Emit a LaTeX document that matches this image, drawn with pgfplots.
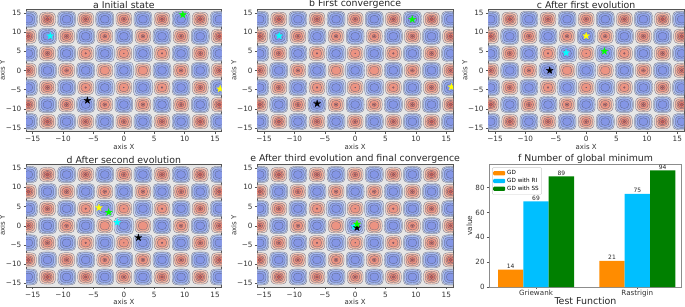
\documentclass[border=0pt]{standalone}
\usepackage{fontspec}
\setmainfont{DejaVu Sans}
\usepackage{pgfplots}
\usepackage{pgfplotstable}
\pgfplotsset{compat=1.18}
\definecolor{bA}{HTML}{C8D3EF}
\definecolor{bB}{HTML}{AABDF0}
\definecolor{bC}{HTML}{8EA1E9}
\definecolor{bD}{HTML}{8496E6}
\definecolor{rA}{HTML}{F2D0C2}
\definecolor{rB}{HTML}{F0AF9B}
\definecolor{rC}{HTML}{EC9382}
\definecolor{rD}{HTML}{E57E6D}
\definecolor{rE}{HTML}{C85A54}
\definecolor{cline}{HTML}{50566E}
\definecolor{bg}{HTML}{E6E6E6}
\definecolor{spine}{HTML}{555555}
\definecolor{tgo}{HTML}{FF8C00}
\definecolor{tgb}{HTML}{00BFFF}
\definecolor{tgg}{HTML}{008000}
\definecolor{sC}{HTML}{00FFFF}
\definecolor{sY}{HTML}{FFFF00}
\definecolor{sG}{HTML}{00FF00}
% one contour ring: rx, ry, squareness, fill colour
\newcommand\ring[4]{%
  \pgfsetfillcolor{#4}%
  \pgfpathmoveto{\pgfpoint{#1bp}{0bp}}%
  \pgfpathcurveto{\pgfpoint{#1bp}{#3*#2bp}}{\pgfpoint{#3*#1bp}{#2bp}}{\pgfpoint{0bp}{#2bp}}%
  \pgfpathcurveto{\pgfpoint{-#3*#1bp}{#2bp}}{\pgfpoint{-#1bp}{#3*#2bp}}{\pgfpoint{-#1bp}{0bp}}%
  \pgfpathcurveto{\pgfpoint{-#1bp}{-#3*#2bp}}{\pgfpoint{-#3*#1bp}{-#2bp}}{\pgfpoint{0bp}{-#2bp}}%
  \pgfpathcurveto{\pgfpoint{#3*#1bp}{-#2bp}}{\pgfpoint{#1bp}{-#3*#2bp}}{\pgfpoint{#1bp}{0bp}}%
  \pgfpathclose\pgfusepath{fill,stroke}}
\newcommand\lineset{\pgfsetlinewidth{0.2bp}\pgfsetstrokecolor{cline}}
\newcommand\bluerings{\ring{8.0}{7.2}{0.84}{bB}\ring{6.4}{5.7}{0.74}{bC}\ring{4.4}{3.9}{0.62}{bD}}
\newcommand\redrings{\ring{8.0}{7.2}{0.84}{rA}\ring{6.4}{5.7}{0.74}{rB}}
\pgfdeclareplotmark{cellB}{\lineset\ring{9.0}{8.0}{0.92}{bA}\bluerings}
\pgfdeclareplotmark{cellBc}{\lineset\ring{9.5}{8.5}{0.98}{bA}\bluerings}
\pgfdeclareplotmark{cellR0}{\lineset\redrings\ring{4.8}{4.3}{0.62}{rC}}
\pgfdeclareplotmark{cellR1}{\lineset\redrings\ring{4.8}{4.3}{0.62}{rC}\ring{0.5}{0.5}{0.56}{rE}}
\pgfdeclareplotmark{cellR2}{\lineset\redrings\ring{4.8}{4.3}{0.62}{rC}\ring{0.9}{0.9}{0.56}{rE}}
\pgfdeclareplotmark{cellR3}{\lineset\redrings\ring{4.8}{4.3}{0.62}{rC}\ring{2.0}{1.8}{0.56}{rD}\ring{0.9}{0.8}{0.56}{rE}}
\pgfdeclareplotmark{cellR4}{\lineset\redrings\ring{4.8}{4.3}{0.62}{rC}\ring{2.6}{2.3}{0.56}{rD}\ring{1.2}{1.1}{0.56}{rE}}
\pgfdeclareplotmark{cellR5}{\lineset\redrings\ring{4.8}{4.3}{0.62}{rC}\ring{3.0}{2.7}{0.56}{rD}\ring{1.5}{1.3}{0.56}{rE}}
\pgfdeclareplotmark{cellR6}{\lineset\redrings\ring{4.8}{4.3}{0.62}{rC}\ring{3.5}{3.1}{0.56}{rD}\ring{1.9}{1.7}{0.56}{rE}}
\pgfdeclareplotmark{fstar}{%
  \pgfpathmoveto{\pgfpoint{0*\pgfplotmarksize}{1*\pgfplotmarksize}}%
  \pgfpathlineto{\pgfpoint{.224*\pgfplotmarksize}{.309*\pgfplotmarksize}}%
  \pgfpathlineto{\pgfpoint{.951*\pgfplotmarksize}{.309*\pgfplotmarksize}}%
  \pgfpathlineto{\pgfpoint{.363*\pgfplotmarksize}{-.118*\pgfplotmarksize}}%
  \pgfpathlineto{\pgfpoint{.588*\pgfplotmarksize}{-.809*\pgfplotmarksize}}%
  \pgfpathlineto{\pgfpoint{0*\pgfplotmarksize}{-.382*\pgfplotmarksize}}%
  \pgfpathlineto{\pgfpoint{-.588*\pgfplotmarksize}{-.809*\pgfplotmarksize}}%
  \pgfpathlineto{\pgfpoint{-.363*\pgfplotmarksize}{-.118*\pgfplotmarksize}}%
  \pgfpathlineto{\pgfpoint{-.951*\pgfplotmarksize}{.309*\pgfplotmarksize}}%
  \pgfpathlineto{\pgfpoint{-.224*\pgfplotmarksize}{.309*\pgfplotmarksize}}%
  \pgfpathclose\pgfusepath{fill,stroke}}
\pgfplotstableread{
x y
-3.14 4.44
3.14 4.44
-3.14 -4.44
3.14 -4.44
0 0
}\tabBc
\pgfplotstableread{
x y
-12.57 0
-6.28 0
6.28 0
12.57 0
-15.71 4.44
-9.42 4.44
9.42 4.44
15.71 4.44
-15.71 -4.44
-9.42 -4.44
9.42 -4.44
15.71 -4.44
-12.57 8.89
-6.28 8.89
0 8.89
6.28 8.89
12.57 8.89
-12.57 -8.89
-6.28 -8.89
0 -8.89
6.28 -8.89
12.57 -8.89
-15.71 13.33
-9.42 13.33
-3.14 13.33
3.14 13.33
9.42 13.33
15.71 13.33
-15.71 -13.33
-9.42 -13.33
-3.14 -13.33
3.14 -13.33
9.42 -13.33
15.71 -13.33
}\tabB
\pgfplotstableread{
x y
-3.14 0
3.14 0
}\tabRz
\pgfplotstableread{
x y
0 4.44
0 -4.44
}\tabRa
\pgfplotstableread{
x y
-6.28 4.44
6.28 4.44
-6.28 -4.44
6.28 -4.44
}\tabRb
\pgfplotstableread{
x y
-9.42 0
9.42 0
-3.14 8.89
3.14 8.89
-3.14 -8.89
3.14 -8.89
}\tabRc
\pgfplotstableread{
x y
-12.57 4.44
12.57 4.44
-12.57 -4.44
12.57 -4.44
-9.42 8.89
9.42 8.89
-9.42 -8.89
9.42 -8.89
0 13.33
0 -13.33
}\tabRd
\pgfplotstableread{
x y
-15.71 0
15.71 0
-6.28 13.33
6.28 13.33
-6.28 -13.33
6.28 -13.33
}\tabRe
\pgfplotstableread{
x y
-15.71 8.89
15.71 8.89
-15.71 -8.89
15.71 -8.89
-12.57 13.33
12.57 13.33
-12.57 -13.33
12.57 -13.33
}\tabRf
\newcommand\starplot[2]{\addplot[only marks,mark=fstar,mark size=3.6bp,mark options={fill=#1,draw=#1,line width=0.3bp}] coordinates {#2};}
\newcommand\panel[7]{%
\begin{axis}[at={(#1bp,#2bp)},anchor=south west,scale only axis,
  width=195.7bp,height=122.7bp,xmin=-16.1,xmax=16.1,ymin=-15.95,ymax=16,
  axis background/.style={fill=bg},
  axis line style={spine,line width=0.5bp},
  tick align=outside,tick pos=left,
  major tick length=2.4bp,every tick/.style={spine,line width=0.4bp},
  xtick={-15,-10,-5,0,5,10,15},ytick={-15,-10,-5,0,5,10,15},
  xticklabels={−15,−10,−5,0,5,10,15},yticklabels={−15,−10,−5,0,5,10,15},
  tick label style={font=\fontsize{7.3}{8}\selectfont,text=black!80},
  xticklabel style={yshift=1.2bp},yticklabel style={xshift=1.2bp},
  xlabel={axis X},ylabel={axis Y},
  label style={font=\fontsize{7}{8}\selectfont,text=black!80},
  xlabel style={yshift=4.5bp},ylabel style={yshift=-6bp},
  title={#3},title style={font=\fontsize{9.4}{11}\selectfont,yshift=-9bp,text=black!85},
  clip mode=global,clip marker paths=true]
 \addplot[only marks,mark=cellB] table {\tabB};
 \addplot[only marks,mark=cellBc] table {\tabBc};
 \addplot[only marks,mark=cellR0] table {\tabRz};
 \addplot[only marks,mark=cellR1] table {\tabRa};
 \addplot[only marks,mark=cellR2] table {\tabRb};
 \addplot[only marks,mark=cellR3] table {\tabRc};
 \addplot[only marks,mark=cellR4] table {\tabRd};
 \addplot[only marks,mark=cellR5] table {\tabRe};
 \addplot[only marks,mark=cellR6] table {\tabRf};
 \starplot{sY}{#6}
 \starplot{sC}{#5}
 \starplot{black}{#4}
 \starplot{sG}{#7}
\end{axis}}
\begin{document}
\begin{tikzpicture}[x=1bp,y=1bp]
\path[use as bounding box] (0,0) rectangle (685,306);
\panel{26}{174.3}{a Initial state}{(-6,-7.8)}{(-12.1,9)}{(15.85,-4.8)}{(9.7,14.5)}
\panel{257.3}{174.3}{b First convergence}{(-6.25,-8.65)}{(-12.5,9)}{(15.85,-4.3)}{(9.4,13.3)}
\panel{488.3}{174.3}{c After first evolution}{(-6,0)}{(-3.3,4.6)}{(0,9)}{(3,5)}
\panel{26}{19}{d After second evolution}{(2.4,-3.1)}{(-1.1,0.9)}{(-4.1,4.7)}{(-2.5,3.5)}
\panel{257.3}{19}{e After third evolution and final convergence}{(0.3,-0.5)}{(-0.1,-0.2)}{(0.3,0.4)}{(0.3,0.4)}
\begin{axis}[at={(489.3bp,19bp)},anchor=south west,scale only axis,
  width=192.4bp,height=122.7bp,xmin=-0.461,xmax=1.438,ymin=0,ymax=98.8,
  axis line style={black!45,line width=0.6bp},
  tick align=outside,tick pos=left,
  major tick length=2.4bp,every tick/.style={spine,line width=0.4bp},
  xtick={0,1},xticklabels={Griewank,Rastrigin},ytick={0,20,40,60,80},
  /pgf/number format/assume math mode=true,
  tick label style={font=\fontsize{7.2}{8}\selectfont,text=black!80},
  xticklabel style={yshift=3bp},yticklabel style={xshift=1.2bp},
  xlabel={Test Function},ylabel={value},
  xlabel style={font=\fontsize{9.5}{11}\selectfont,text=black!85,yshift=6bp},
  ylabel style={font=\fontsize{7.4}{8}\selectfont,text=black!80,yshift=-3.5bp},
  title={f Number of global minimum},title style={font=\fontsize{9.4}{11}\selectfont,yshift=-9bp,text=black!85},
  legend style={at={(0.015,0.975)},anchor=north west,font=\fontsize{5.7}{6.3}\selectfont,draw=black!20,rounded corners=1bp,row sep=-2bp,inner sep=0.8bp},
  legend cell align=left,
  legend image code/.code={\path[#1,draw=none] (0bp,-2.1bp) rectangle (12bp,2.1bp);},
  nodes near coords,nodes near coords style={font=\fontsize{6}{7}\selectfont,text=black!85,inner sep=0.8bp},
  clip=false]
 \addplot[ybar,bar width=25.3bp,bar shift=0pt,fill=tgo,draw=none] coordinates {(-0.25,14) (0.75,21)};
 \addplot[ybar,bar width=25.3bp,bar shift=0pt,fill=tgb,draw=none] coordinates {(0,69) (1,75)};
 \addplot[ybar,bar width=25.3bp,bar shift=0pt,fill=tgg,draw=none] coordinates {(0.25,89) (1.25,94)};
 \legend{GD,GD with RI,GD with SS}
\end{axis}
\end{tikzpicture}
\end{document}
